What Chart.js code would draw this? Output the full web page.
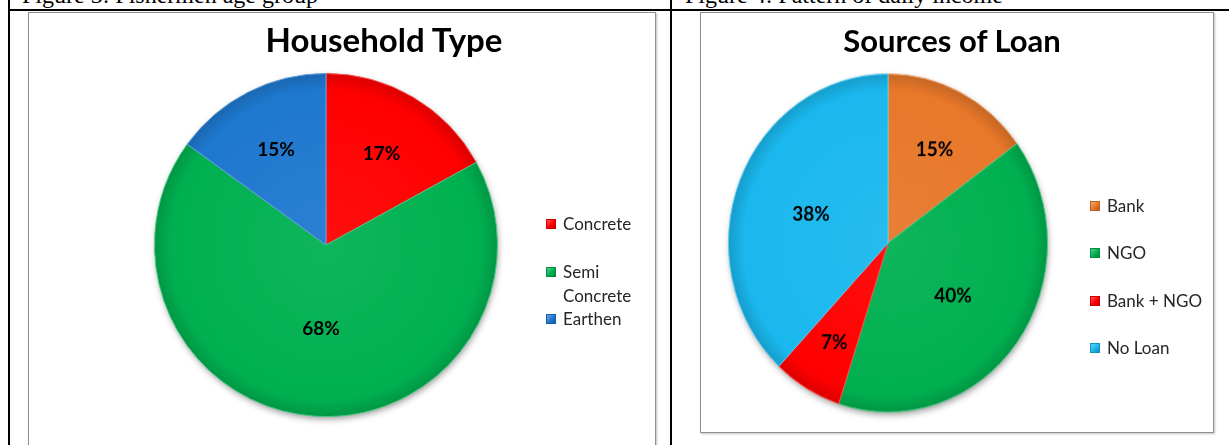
<!DOCTYPE html>
<html>
<head>
<meta charset="utf-8">
<script src="https://cdn.jsdelivr.net/npm/chart.js@4/dist/chart.umd.min.js"></script>
<style>
  html, body { margin: 0; padding: 0; background: #fff; overflow: hidden; }
  body { width: 1229px; height: 445px; position: relative; font-family: Lato, "Open Sans", sans-serif; }
  .rule { position: absolute; background: #000; }
  .cap { position: absolute; top: -17px; font: 24px/24px "Liberation Serif", "Times New Roman", serif; color: #000; white-space: nowrap; }
  .box { position: absolute; border: 1px solid #8f8f8f; background: #fff; box-shadow: 1px 1px 2px rgba(0,0,0,0.25); }
  .box canvas { position: absolute; left: 0; top: 0; }
  .title { position: absolute; transform: translateX(-50%); white-space: nowrap; font-weight: bold; color: #000; }
  .legend { position: absolute; font: 17px/24px Lato, sans-serif; color: #262626; }
  .legend .item { position: relative; padding-left: 17px; }
  .legend .sw { position: absolute; left: 0; top: 7px; width: 10px; height: 10px; box-sizing: border-box; }
</style>
</head>
<body>
  <div class="cap" style="left:22px">Figure 3: Fishermen age group</div>
  <div class="cap" style="left:685px">Figure 4: Pattern of daily income</div>
  <div class="rule" style="left:8px; top:9px; width:1221px; height:2px"></div>
  <div class="rule" style="left:8px; top:0; width:2px; height:445px"></div>
  <div class="rule" style="left:670px; top:0; width:2px; height:445px"></div>

  <div class="box" style="left:28px; top:12px; width:626px; height:460px">
    <canvas id="householdChart" width="626" height="432"></canvas>
    <div class="title" style="left:355px; top:10px; font-size:33px; line-height:33px">Household Type</div>
    <div class="legend" id="householdLegend" style="left:517px; top:199px; width:80px"></div>
  </div>

  <div class="box" style="left:700px; top:12px; width:512px; height:419px">
    <!-- this pie is drawn slightly taller than wide -->
    <canvas id="loanChart" width="512" height="419" style="transform: scaleY(1.06); transform-origin: 187px 230px"></canvas>
    <div class="title" style="left:251px; top:12px; font-size:31px; line-height:31px">Sources of Loan</div>
    <div class="legend" id="loanLegend" style="left:389px; top:181px; width:120px"></div>
  </div>

<script>
const householdLabels = ["Concrete", "Semi Concrete", "Earthen"];
const householdValues = [17, 68, 15];
const householdColors = ["#ff0000", "#00b050", "#1e78cf"];

const loanLabels = ["Bank", "NGO", "Bank + NGO", "No Loan"];
const loanValues = [15, 40, 7, 38];
const loanColors = ["#e8782a", "#00b050", "#ff0000", "#1ab8ee"];

function shade(hex, amt) {
  var n = parseInt(hex.slice(1), 16);
  var r = (n >> 16) & 255, g = (n >> 8) & 255, b = n & 255;
  function f(c) { return Math.round(amt < 0 ? c * (1 + amt) : c + (255 - c) * amt); }
  return "rgb(" + f(r) + "," + f(g) + "," + f(b) + ")";
}

// soft bevel: flat fill that darkens a little at the rim
function bevelFill(colors) {
  return function (context) {
    var chart = context.chart;
    var area = chart.chartArea;
    var base = colors[context.dataIndex];
    if (!area) return base;
    var cx = (area.left + area.right) / 2, cy = (area.top + area.bottom) / 2;
    var r = Math.min(area.width, area.height) / 2;
    var g = chart.ctx.createRadialGradient(cx, cy, 0, cx, cy, r);
    g.addColorStop(0, shade(base, 0.06));
    g.addColorStop(0.9, base);
    g.addColorStop(1, shade(base, -0.15));
    return g;
  };
}

// drop shadow under the whole pie
const pieShadow = {
  id: "pieShadow",
  beforeDatasetsDraw: function (chart) {
    var arc = chart.getDatasetMeta(0).data[0];
    if (!arc) return;
    var ctx = chart.ctx;
    ctx.save();
    ctx.shadowColor = "rgba(0,0,0,0.45)";
    ctx.shadowBlur = 7;
    ctx.shadowOffsetX = 1;
    ctx.shadowOffsetY = 3;
    ctx.fillStyle = "#888";
    ctx.beginPath();
    ctx.arc(arc.x, arc.y, arc.outerRadius - 1, 0, Math.PI * 2);
    ctx.fill();
    ctx.restore();
  }
};

// percentage labels near each slice's centroid
const pctLabels = {
  id: "pctLabels",
  afterDatasetsDraw: function (chart) {
    var ctx = chart.ctx;
    var values = chart.data.datasets[0].data;
    ctx.save();
    ctx.font = "bold 19px Lato, sans-serif";
    ctx.fillStyle = "#000";
    ctx.textAlign = "center";
    ctx.textBaseline = "middle";
    chart.getDatasetMeta(0).data.forEach(function (arc, i) {
      var half = (arc.endAngle - arc.startAngle) / 2;
      var mid = arc.startAngle + half;
      var d = Math.max((2 / 3) * arc.outerRadius * Math.sin(half) / half, 0.47 * arc.outerRadius);
      ctx.fillText(values[i] + "%", arc.x + Math.cos(mid) * d, arc.y + Math.sin(mid) * d + 3);
    });
    ctx.restore();
  }
};

function makePie(id, labels, values, colors, padding) {
  return new Chart(document.getElementById(id), {
    type: "pie",
    data: {
      labels: labels,
      datasets: [{
        data: values,
        backgroundColor: bevelFill(colors),
        borderColor: colors.map(function (c) { return shade(c, 0.3); }),
        borderWidth: 1
      }]
    },
    options: {
      responsive: false,
      animation: false,
      layout: { padding: padding },
      plugins: { legend: { display: false }, tooltip: { enabled: false } }
    },
    plugins: [pieShadow, pctLabels]
  });
}

function fillLegend(elId, chart, colors, rowHeight) {
  var el = document.getElementById(elId);
  chart.data.labels.forEach(function (label, i) {
    var base = colors[i];
    var item = document.createElement("div");
    item.className = "item";
    item.style.height = rowHeight + "px";
    var sw = document.createElement("span");
    sw.className = "sw";
    sw.style.background = "linear-gradient(135deg," + shade(base, 0.35) + "," + base + " 55%," + shade(base, -0.25) + ")";
    sw.style.border = "1px solid " + shade(base, -0.2);
    item.appendChild(sw);
    item.appendChild(document.createTextNode(label));
    el.appendChild(item);
  });
}

const householdChart = makePie("householdChart", householdLabels, householdValues, householdColors,
  { left: 125, right: 157, top: 60, bottom: 28 });
const loanChart = makePie("loanChart", loanLabels, loanValues, loanColors,
  { left: 27, right: 165, top: 70, bottom: 29 });

fillLegend("householdLegend", householdChart, householdColors, 47.5);
fillLegend("loanLegend", loanChart, loanColors, 47.3);
</script>
</body>
</html>
